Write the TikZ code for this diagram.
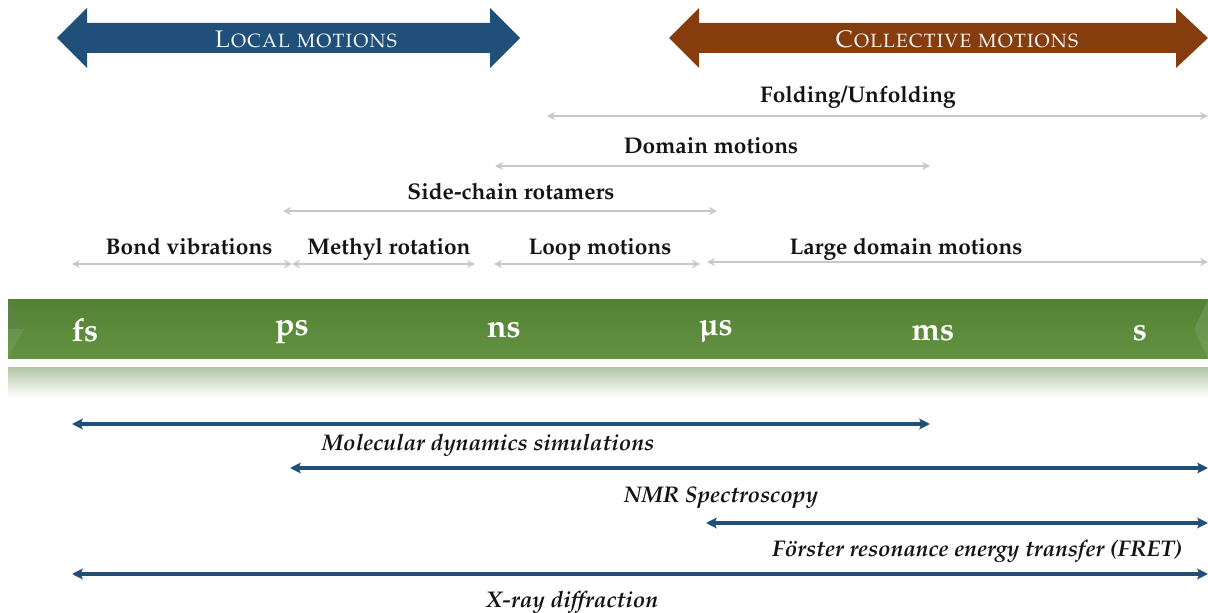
\documentclass[tikz,border=0pt]{standalone}
\usepackage[T1]{fontenc}
\usepackage{mathpazo}
\usepackage{textcomp}
\usetikzlibrary{arrows.meta}
\definecolor{navy}{RGB}{32,80,122}
\definecolor{rust}{RGB}{133,61,14}
\definecolor{bartop}{RGB}{84,130,52}
\definecolor{barbot}{RGB}{98,146,66}
\definecolor{refl}{RGB}{178,197,165}
\definecolor{lgray}{RGB}{200,200,200}
\definecolor{txt}{RGB}{20,20,20}
\tikzset{
  banner/.style={font=\fontsize{18}{21}\selectfont\scshape, text=white!96!black, anchor=center},
  motion/.style={font=\fontsize{17}{20}\selectfont\bfseries, text=txt, anchor=center, text height=0.7em, text depth=0.25em},
  timelbl/.style={font=\fontsize{24}{28}\selectfont\bfseries, text=white, anchor=center},
  methodlbl/.style={font=\fontsize{17}{20}\selectfont\bfseries\itshape, text=txt, anchor=center, text height=0.7em, text depth=0.25em},
  grayarr/.style={draw=lgray, line width=1.4pt, {Stealth[length=6pt,width=6pt]}-{Stealth[length=6pt,width=6pt]}},
  bluearr/.style={draw=navy, line width=2.4pt, {Stealth[length=8pt,width=8pt,inset=1.5pt]}-{Stealth[length=8pt,width=8pt,inset=1.5pt]}},
}
\begin{document}
\begin{tikzpicture}[x=0.75pt,y=-0.75pt]
\useasboundingbox (0,0) rectangle (1208,613);
% block arrows
\fill[navy] (57,38) -- (87,8) -- (87,23) -- (490,23) -- (490,8) -- (520,38) -- (490,68) -- (490,53) -- (87,53) -- (87,68) -- cycle;
\node[banner] (local) at (306,39) {Local motions};
\fill[rust] (669,38) -- (699,8) -- (699,23) -- (1176,23) -- (1176,8) -- (1208,38) -- (1176,68) -- (1176,53) -- (699,53) -- (699,68) -- cycle;
\node[banner] (coll) at (957,39) {Collective motions};
% motion ranges
\node[motion] (fold) at (858,100) {Folding/Unfolding};
\coordinate (foldA) at (547,116); \coordinate (foldB) at (1208,116);
\draw[grayarr] (foldA) -- (foldB);
\node[motion] (dom) at (711,151) {Domain motions};
\coordinate (domA) at (495,166); \coordinate (domB) at (930,166);
\draw[grayarr] (domA) -- (domB);
\node[motion] (side) at (511,197) {Side-chain rotamers};
\coordinate (sideA) at (283,211); \coordinate (sideB) at (717,211);
\draw[grayarr] (sideA) -- (sideB);
\node[motion] (bond) at (189,252) {Bond vibrations};
\coordinate (bondA) at (72,264); \coordinate (bondB) at (292,264);
\draw[grayarr] (bondA) -- (bondB);
\node[motion] (meth) at (389,252) {Methyl rotation};
\coordinate (methA) at (292,264); \coordinate (methB) at (475,264);
\draw[grayarr] (methA) -- (methB);
\node[motion] (loop) at (600,252) {Loop motions};
\coordinate (loopA) at (494,264); \coordinate (loopB) at (700,264);
\draw[grayarr] (loopA) -- (loopB);
\node[motion] (large) at (906,252) {Large domain motions};
\coordinate (largeA) at (707,262); \coordinate (largeB) at (1208,262);
\draw[grayarr] (largeA) -- (largeB);
% time bar
\shade[top color=bartop, bottom color=barbot] (8,300) rectangle (1208,358);
\fill[white,opacity=0.08] (8,300) -- (24,329) -- (8,358) -- cycle;
\fill[black,opacity=0.08] (8,300) -- (24,329) -- (8,329) -- cycle;
\fill[white,opacity=0.10] (1208,300) -- (1194,329) -- (1208,358) -- cycle;
\shade[top color=refl, bottom color=white] (8,367) rectangle (1208,397);
\node[timelbl] (fs) at (85,330) {fs};
\node[timelbl] (ps) at (292,332) {ps};
\node[timelbl] (ns) at (504,330) {ns};
\node[timelbl] (us) at (716,331) {\textmu s};
\node[timelbl] (ms) at (933,333) {ms};
\node[timelbl] (s) at (1140,333) {s};
% methods
\coordinate (mdA) at (72,424); \coordinate (mdB) at (930,424);
\draw[bluearr] (mdA) -- (mdB);
\node[methodlbl] (md) at (488,447) {Molecular dynamics simulations};
\coordinate (nmrA) at (290,468); \coordinate (nmrB) at (1208,468);
\draw[bluearr] (nmrA) -- (nmrB);
\node[methodlbl] (nmr) at (721,499) {NMR Spectroscopy};
\coordinate (fretA) at (706,523); \coordinate (fretB) at (1208,523);
\draw[bluearr] (fretA) -- (fretB);
\node[methodlbl] (fret) at (977,553) {Förster resonance energy transfer (FRET)};
\coordinate (xrA) at (72,574); \coordinate (xrB) at (1208,574);
\draw[bluearr] (xrA) -- (xrB);
\node[methodlbl] (xr) at (572,604) {X-ray diffraction};
\end{tikzpicture}
\end{document}
